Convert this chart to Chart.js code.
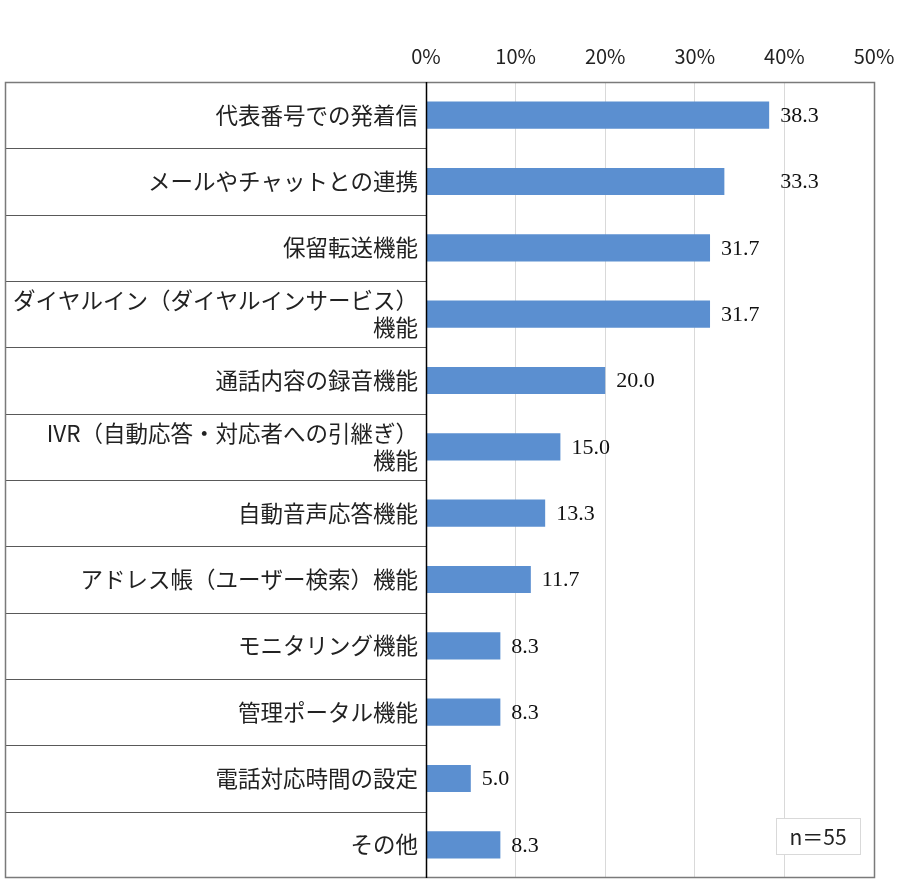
<!DOCTYPE html>
<html>
<head>
<meta charset="utf-8">
<script src="https://cdn.jsdelivr.net/npm/chart.js@4.4.1/dist/chart.umd.min.js"></script>
<style>
  html, body { margin: 0; padding: 0; background: #ffffff; }
  canvas { display: block; }
</style>
</head>
<body>
<canvas id="c" width="900" height="886"></canvas>
<script>
const categories = [
  "代表番号での発着信",
  "メールやチャットとの連携",
  "保留転送機能",
  ["ダイヤルイン（ダイヤルインサービス）", "機能"],
  "通話内容の録音機能",
  ["IVR（自動応答・対応者への引継ぎ）", "機能"],
  "自動音声応答機能",
  "アドレス帳（ユーザー検索）機能",
  "モニタリング機能",
  "管理ポータル機能",
  "電話対応時間の設定",
  "その他"
];
const values = [38.3, 33.3, 31.7, 31.7, 20.0, 15.0, 13.3, 11.7, 8.3, 8.3, 5.0, 8.3];
const tickValues = [0, 10, 20, 30, 40, 50];
const sampleNote = "n＝55";

const framePlugin = {
  id: 'frame',
  afterDraw(chart) {
    const ctx = chart.ctx;
    const ca = chart.chartArea;
    const y = chart.scales.y;
    const leftEdge = 5;
    ctx.save();
    ctx.strokeStyle = '#595959';
    ctx.lineWidth = 1.2;
    for (let i = 1; i < categories.length; i++) {
      const yy = Math.round((y.getPixelForValue(i - 1) + y.getPixelForValue(i)) / 2) + 0.5;
      ctx.beginPath();
      ctx.moveTo(leftEdge, yy);
      ctx.lineTo(ca.left, yy);
      ctx.stroke();
    }
    ctx.strokeStyle = '#7a7a7a';
    ctx.lineWidth = 1.5;
    ctx.strokeRect(leftEdge + 0.5, ca.top + 0.5, ca.right - leftEdge, ca.bottom - ca.top - 1);
    ctx.strokeStyle = '#000000';
    ctx.lineWidth = 1.5;
    ctx.beginPath();
    ctx.moveTo(ca.left + 0.5, ca.top);
    ctx.lineTo(ca.left + 0.5, ca.bottom);
    ctx.stroke();
    const bx = ca.right - 98, by = ca.bottom - 60, bw = 84, bh = 36;
    ctx.fillStyle = '#ffffff';
    ctx.fillRect(bx, by, bw, bh);
    ctx.strokeStyle = '#d9d9d9';
    ctx.lineWidth = 1;
    ctx.strokeRect(bx + 0.5, by + 0.5, bw, bh);
    ctx.fillStyle = '#222222';
    ctx.font = '21px "Noto Sans CJK JP"';
    ctx.textAlign = 'center';
    ctx.textBaseline = 'middle';
    ctx.fillText(sampleNote, bx + bw / 2, by + bh / 2 + 1);
    ctx.restore();
  }
};

const labelPlugin = {
  id: 'vlabels',
  afterDatasetsDraw(chart) {
    const ctx = chart.ctx;
    const meta = chart.getDatasetMeta(0);
    ctx.save();
    ctx.fillStyle = '#111111';
    ctx.font = '22px "Liberation Serif"';
    ctx.textAlign = 'left';
    ctx.textBaseline = 'middle';
    const xs = meta.data.map(b => b.x + 11);
    meta.data.forEach((bar, i) => {
      let x = xs[i];
      // second label sits aligned with the first one in the reference
      if (i === 1) x = xs[0];
      ctx.fillText(values[i].toFixed(1), x, bar.y + 1);
    });
    ctx.restore();
  }
};

new Chart(document.getElementById('c'), {
  type: 'bar',
  data: {
    labels: categories,
    datasets: [{
      data: values,
      backgroundColor: '#5B8FD0',
      borderWidth: 0,
      categoryPercentage: 1.0,
      barPercentage: 0.41
    }]
  },
  options: {
    indexAxis: 'y',
    responsive: false,
    animation: false,
    devicePixelRatio: 1,
    layout: { padding: { left: 5, right: 26, top: 0, bottom: 8 } },
    plugins: { legend: { display: false }, tooltip: { enabled: false } },
    scales: {
      x: {
        position: 'top',
        min: 0,
        max: 50,
        afterBuildTicks(scale) { scale.ticks = tickValues.map(v => ({ value: v })); },
        afterFit(scale) {
          scale.height = 82;
          scale.paddingLeft = 0; scale.paddingRight = 0;
        },
        ticks: {
          padding: 14,
          color: '#222222',
          font: { family: '"Noto Sans CJK JP"', size: 20 },
          callback: v => v + '%'
        },
        grid: { color: '#d9d9d9', drawTicks: false, lineWidth: 1 },
        border: { display: false }
      },
      y: {
        afterFit(scale) {
          scale.width = 421;
          scale.paddingTop = 0; scale.paddingBottom = 0;
        },
        ticks: {
          autoSkip: false,
          padding: 8,
          color: '#222222',
          font: { family: '"Noto Sans CJK JP"', size: 22.5, lineHeight: 1.2 }
        },
        grid: { display: false, drawTicks: false },
        border: { display: false }
      }
    }
  },
  plugins: [framePlugin, labelPlugin]
});
</script>
</body>
</html>
